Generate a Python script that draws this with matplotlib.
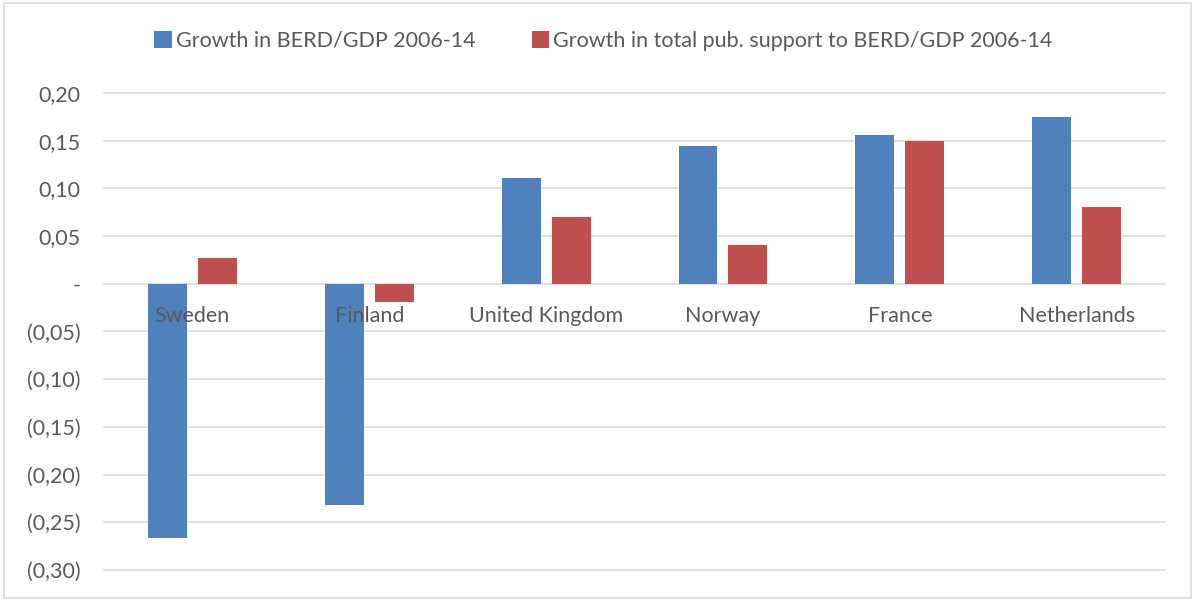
import matplotlib
matplotlib.use('Agg')
import matplotlib.pyplot as plt
import numpy as np
from matplotlib.patches import Rectangle
from matplotlib.ticker import FuncFormatter

countries = ['Sweden', 'Finland', 'United Kingdom', 'Norway', 'France', 'Netherlands']
berd_growth = [-0.266, -0.232, 0.111, 0.144, 0.156, 0.175]
support_growth = [0.027, -0.019, 0.070, 0.041, 0.150, 0.080]
series_names = ['Growth in BERD/GDP 2006-14',
                'Growth in total pub. support to BERD/GDP 2006-14']
yticks = [0.20, 0.15, 0.10, 0.05, 0.0, -0.05, -0.10, -0.15, -0.20, -0.25, -0.30]

blue = '#4F81BD'
red = '#C0504D'
grid = '#D9D9D9'
txt = '#595959'

plt.rcParams['font.family'] = ['Lato', 'DejaVu Sans']

fig = plt.figure(figsize=(11.95, 6.01), dpi=100)
ax = fig.add_axes([0.087, 0.0516, 0.888, 0.7937])

x = np.arange(len(countries))
w = 0.22
off = 0.141
ax.bar(x - off, berd_growth, w, color=blue, label=series_names[0], zorder=2)
ax.bar(x + off, support_growth, w, color=red, label=series_names[1], zorder=2)

ax.set_xlim(-0.5, len(countries) - 0.5)
ax.set_ylim(-0.30, 0.20)
for t in yticks:
    ax.axhline(t, color=grid, lw=1.2, zorder=1, clip_on=False)


def fmt(v, pos):
    if abs(v) < 1e-9:
        return '-'
    s = ('%.2f' % abs(v)).replace('.', ',')
    return s if v > 0 else '(' + s + ')'


ax.set_yticks(yticks)
ax.yaxis.set_major_formatter(FuncFormatter(fmt))
ax.tick_params(axis='y', length=0, pad=17, labelsize=15.5, labelcolor=txt)
ax.set_xticks([])
for s in ax.spines.values():
    s.set_visible(False)

for i, c in enumerate(countries):
    ax.text(i, -0.034, c, ha='center', va='center', fontsize=15.5, color=txt, zorder=3)

fig.legend(loc='center', bbox_to_anchor=(0.505, 0.932), ncol=2, frameon=False,
           fontsize=15.5, labelcolor=txt, handlelength=0.8, handleheight=0.8,
           handletextpad=0.2, columnspacing=2.6)

fig.patches.append(Rectangle((0.003, 0.005), 0.994, 0.99, transform=fig.transFigure,
                             fill=False, edgecolor=grid, lw=1.2))

fig.savefig('out.png', dpi=100)
